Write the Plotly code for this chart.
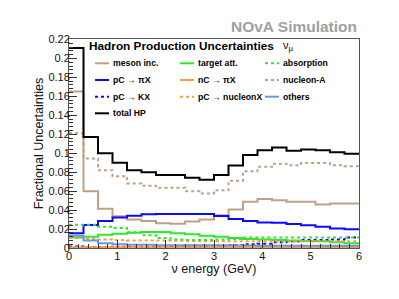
import plotly.graph_objects as go

# ---------------- data ----------------
bin_edges = [0.0, 0.3, 0.6, 0.9, 1.2, 1.5, 1.8, 2.1, 2.4, 2.7, 3.0,
             3.3, 3.6, 3.9, 4.2, 4.5, 4.8, 5.1, 5.4, 5.7, 6.0]

meson_inc = [0.165, 0.060, 0.0414, 0.0335, 0.0302, 0.0285, 0.026, 0.0255, 0.028, 0.030,
             0.0345, 0.0405, 0.0488, 0.0516, 0.0505, 0.0488, 0.0488, 0.046, 0.047, 0.047]
pC_piX = [0.0155, 0.0242, 0.0284, 0.0323, 0.034, 0.0355, 0.036, 0.036, 0.036, 0.036,
          0.0337, 0.0305, 0.0284, 0.027, 0.0267, 0.0253, 0.0239, 0.0225, 0.0206, 0.0197]
pC_KX = [0.0015, 0.0010, 0.0010, 0.0012, 0.0013, 0.0014, 0.0016, 0.0018, 0.0020, 0.0022,
         0.0025, 0.0030, 0.0040, 0.0045, 0.0060, 0.0070, 0.0084, 0.0084, 0.0090, 0.0110]
target_att = [0.011, 0.012, 0.014, 0.015, 0.016, 0.017, 0.017, 0.0155, 0.0145, 0.013,
              0.012, 0.0105, 0.0095, 0.009, 0.0085, 0.008, 0.0075, 0.007, 0.006, 0.005]
nC_piX = [0.0008, 0.0008, 0.0009, 0.0009, 0.0009, 0.0009, 0.0009, 0.0009, 0.0009, 0.0009,
          0.0009, 0.0009, 0.0009, 0.0009, 0.0009, 0.0009, 0.0009, 0.0010, 0.0010, 0.0010]
pC_nucleonX = [0.0105, 0.0095, 0.009, 0.0085, 0.008, 0.008, 0.0078, 0.0076, 0.0075, 0.0074,
               0.0072, 0.007, 0.007, 0.007, 0.0068, 0.0068, 0.0068, 0.007, 0.007, 0.0072]
absorption = [0.0245, 0.0245, 0.0225, 0.021, 0.0165, 0.0135, 0.0105, 0.009, 0.0085, 0.0085,
              0.009, 0.0095, 0.0112, 0.0112, 0.0112, 0.011, 0.011, 0.011, 0.011, 0.011]
nucleon_A = [0.121, 0.0945, 0.082, 0.0758, 0.068, 0.0656, 0.0635, 0.0635, 0.060, 0.0575,
             0.061, 0.071, 0.081, 0.0856, 0.089, 0.0874, 0.0898, 0.0898, 0.0874, 0.0863]
others = [0.013, 0.0078, 0.005, 0.004, 0.0035, 0.0033, 0.003, 0.003, 0.003, 0.003,
          0.0028, 0.0027, 0.0026, 0.0025, 0.0025, 0.0025, 0.0024, 0.0024, 0.0024, 0.0024]
total_HP = [0.211, 0.117, 0.100, 0.090, 0.082, 0.080, 0.077, 0.077, 0.074, 0.072,
            0.077, 0.087, 0.098, 0.103, 0.106, 0.1025, 0.104, 0.103, 0.101, 0.0995]

series_names = ["meson inc.", "target att.", "absorption",
                "pC \u2192 \u03c0X", "nC \u2192 \u03c0X", "nucleon-A",
                "pC \u2192 KX", "pC \u2192 nucleonX", "others",
                "total HP"]
series_values = [meson_inc, target_att, absorption,
                 pC_piX, nC_piX, nucleon_A,
                 pC_KX, pC_nucleonX, others,
                 total_HP]

x_tick_vals = [0, 1, 2, 3, 4, 5, 6]
x_tick_text = ["0", "1", "2", "3", "4", "5", "6"]
y_tick_vals = [0, 0.02, 0.04, 0.06, 0.08, 0.10, 0.12, 0.14, 0.16, 0.18, 0.20, 0.22]
y_tick_text = ["0", "0.02", "0.04", "0.06", "0.08", "0.1", "0.12", "0.14", "0.16", "0.18", "0.2", "0.22"]

# ---------------- styles ----------------
TAN = "#bfa085"
BLUE = "#0a0aff"
GREEN = "#2ee82e"
ORANGE = "#ff9a3c"
LBLUE = "#7094e0"
styles = [
    dict(color=TAN, dash="solid"),
    dict(color=GREEN, dash="solid"),
    dict(color=GREEN, dash="dot"),
    dict(color=BLUE, dash="solid"),
    dict(color=ORANGE, dash="solid"),
    dict(color=TAN, dash="dot"),
    dict(color=BLUE, dash="dot"),
    dict(color=ORANGE, dash="dot"),
    dict(color=LBLUE, dash="solid"),
    dict(color="#000000", dash="solid"),
]
draw_order = [0, 3, 6, 1, 4, 7, 2, 5, 8, 9]

FONT = "Liberation Sans, Arial, sans-serif"
# page has an 8px body margin: target plot area is x 69..359, y 39..248 on screen
OFF = 8
L, R, T, B = 69 - OFF, 40, 39 - OFF, 51
W, H = 399 - OFF, 299 - OFF
pw, ph = W - L - R, H - T - B

fig = go.Figure()
for i in draw_order:
    vals = series_values[i]
    fig.add_trace(go.Scatter(
        x=bin_edges, y=list(vals) + [vals[-1]],
        mode="lines", line_shape="hv",
        line=dict(color=styles[i]["color"], width=2, dash=styles[i]["dash"]),
        name=series_names[i], showlegend=False, hoverinfo="skip"))

# ---------------- manual ROOT-like legend (screen px -> paper) ----------------
def px2paper(px, py):
    return (px - OFF - L) / pw, (H - B - (py - OFF)) / ph

row_y = [63.3, 80.0, 96.7, 113.3]
col_x = [95, 180, 265]
for k, name in enumerate(series_names):
    r, c = divmod(k, 3)
    x0, y0 = px2paper(col_x[c], row_y[r])
    x1, _ = px2paper(col_x[c] + 14, row_y[r])
    fig.add_shape(type="line", xref="paper", yref="paper", x0=x0, x1=x1, y0=y0, y1=y0,
                  line=dict(color=styles[k]["color"], width=2, dash=styles[k]["dash"]))
    tx, _ = px2paper(col_x[c] + 16, row_y[r])
    fig.add_annotation(xref="paper", yref="paper", x=tx, y=y0, text="<b>%s</b>" % name,
                       showarrow=False, xanchor="left", yanchor="middle",
                       font=dict(family=FONT, size=8.7, color="#000"))

tx, ty = px2paper(87, 45.5)
fig.add_annotation(xref="paper", yref="paper", x=tx, y=ty,
                   text="<b>Hadron Production Uncertainties</b>",
                   showarrow=False, xanchor="left", yanchor="middle",
                   font=dict(family=FONT, size=11.8, color="#000"))
tx, ty = px2paper(281, 46)
fig.add_annotation(xref="paper", yref="paper", x=tx, y=ty,
                   text="\u03bd<sub>\u03bc</sub>",
                   showarrow=False, xanchor="left", yanchor="middle",
                   font=dict(family=FONT, size=11, color="#000"))

tx, ty = px2paper(359, 26.5)
fig.add_annotation(xref="paper", yref="paper", x=tx, y=ty,
                   text="<b>NOvA Simulation</b>",
                   showarrow=False, xanchor="right", yanchor="middle",
                   font=dict(family=FONT, size=15.5, color="#a0a0a0"))

axis_common = dict(showline=True, linecolor="#555555", linewidth=1, mirror=True,
                   ticks="inside", ticklen=8, tickwidth=1, tickcolor="#333333",
                   showgrid=False, zeroline=False, automargin=True,
                   tickfont=dict(family=FONT, size=11, color="#111"))
fig.update_xaxes(range=[0, 6], tickmode="array", tickvals=x_tick_vals, ticktext=x_tick_text,
                 ticklabelstandoff=-2,
                 minor=dict(tickmode="linear", tick0=0, dtick=0.2, ticks="inside",
                            ticklen=4, tickcolor="#333333"),
                 title=dict(text="\u03bd energy (GeV)", standoff=0,
                            font=dict(family=FONT, size=12.5, color="#111")),
                 **axis_common)
fig.update_yaxes(range=[0, 0.2205], tickmode="array", tickvals=y_tick_vals, ticktext=y_tick_text,
                 ticklabelstandoff=-4,
                 minor=dict(tickmode="linear", tick0=0, dtick=0.004, ticks="inside",
                            ticklen=4, tickcolor="#333333"),
                 title=dict(text="Fractional Uncertainties", standoff=2,
                            font=dict(family=FONT, size=12.5, color="#111")),
                 **axis_common)
fig.update_layout(width=W, height=H, margin=dict(l=L, r=R, t=T, b=B, autoexpand=False),
                  paper_bgcolor="white", plot_bgcolor="white", showlegend=False)
fig.write_html("out.html")
